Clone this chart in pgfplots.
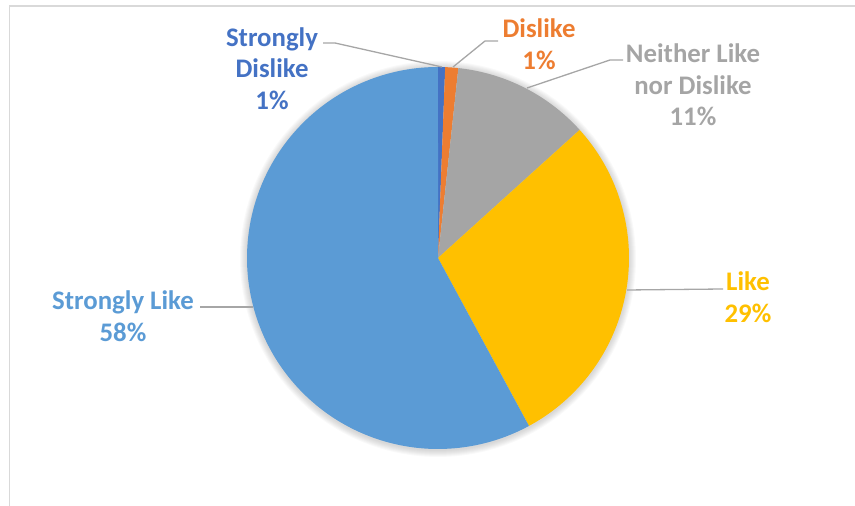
\documentclass[border=0pt]{standalone}
\usepackage{pgfplots}
\pgfplotsset{compat=1.18}
\usepackage{fontspec}
\setmainfont{Carlito}
\definecolor{cSD}{HTML}{4472C4}
\definecolor{cD}{HTML}{ED7D31}
\definecolor{cN}{HTML}{A5A5A5}
\definecolor{cL}{HTML}{FFC000}
\definecolor{cSL}{HTML}{5B9BD5}
\definecolor{frame}{HTML}{D9D9D9}
\definecolor{leader}{HTML}{A6A6A6}
% shares in percent (clockwise from 12 o'clock)
\def\vSD{0.6}
\def\vD{1.1}
\def\vN{11.6}
\def\vL{28.8}
\def\vSL{57.9}
\pgfmathsetmacro{\aA}{0}
\pgfmathsetmacro{\aB}{\aA+3.6*\vSD}
\pgfmathsetmacro{\aC}{\aB+3.6*\vD}
\pgfmathsetmacro{\aD}{\aC+3.6*\vN}
\pgfmathsetmacro{\aE}{\aD+3.6*\vL}
\pgfmathsetmacro{\aF}{\aE+3.6*\vSL}
\def\cx{438}
\def\cy{248}
\def\rr{191}
\begin{document}
\begin{tikzpicture}
\path[use as bounding box] (0,0) rectangle (855pt,506pt);
\draw[frame, line width=1.8pt] (9.5pt,-5pt) -- (9.5pt,500pt) -- (860pt,500pt);
\begin{axis}[
  x=1pt, y=1pt, xmin=0, xmax=855, ymin=0, ymax=506,
  anchor=origin, at={(0,0)}, hide axis, clip=false,
  every axis plot/.append style={draw=none},
]
% soft shadow
\foreach \k in {1,...,7} {
  \addplot[fill=black, fill opacity=0.025, domain=0:360, samples=120]
    ({\cx+(\rr+\k)*sin(x)}, {\cy-1+(\rr+\k)*cos(x)}) -- cycle;
}
\addplot[fill=cSD, domain=\aA:\aB, samples=5]
  ({\cx+\rr*sin(x)}, {\cy+\rr*cos(x)}) -- (axis cs:\cx,\cy) -- cycle;
\addplot[fill=cD, domain=\aB:\aC, samples=5]
  ({\cx+\rr*sin(x)}, {\cy+\rr*cos(x)}) -- (axis cs:\cx,\cy) -- cycle;
\addplot[fill=cN, domain=\aC:\aD, samples=40]
  ({\cx+\rr*sin(x)}, {\cy+\rr*cos(x)}) -- (axis cs:\cx,\cy) -- cycle;
\addplot[fill=cL, domain=\aD:\aE, samples=80]
  ({\cx+\rr*sin(x)}, {\cy+\rr*cos(x)}) -- (axis cs:\cx,\cy) -- cycle;
\addplot[fill=cSL, domain=\aE:\aF, samples=160]
  ({\cx+\rr*sin(x)}, {\cy+\rr*cos(x)}) -- (axis cs:\cx,\cy) -- cycle;
% leader lines
\draw[leader, line width=1.3pt] (axis cs:323,463) -- (axis cs:335,463) -- (axis cs:442,439);
\draw[leader, line width=1.3pt] (axis cs:498,465) -- (axis cs:485,465) -- (axis cs:453,439);
\draw[leader, line width=1.3pt] (axis cs:623,446) -- (axis cs:610,446) -- (axis cs:527,418);
\draw[leader, line width=1.3pt] (axis cs:723,217) -- (axis cs:627,216);
\draw[leader, line width=1.3pt] (axis cs:200,199) -- (axis cs:253,199);
% labels
\tikzset{lab/.style={align=center, font=\fontsize{26.8}{31.7}\selectfont\bfseries, inner sep=0pt}}
\node[lab, text=cSD] at (axis cs:272,437.5) {Strongly\\Dislike\\1\%};
\node[lab, text=cD] at (axis cs:539,461.5) {Dislike\\1\%};
\node[lab, text=cN] at (axis cs:693,421) {Neither Like\\nor Dislike\\11\%};
\node[lab, text=cL] at (axis cs:748,209) {Like\\29\%};
\node[lab, text=cSL] at (axis cs:123,190) {Strongly Like\\58\%};
\end{axis}
\end{tikzpicture}
\end{document}
